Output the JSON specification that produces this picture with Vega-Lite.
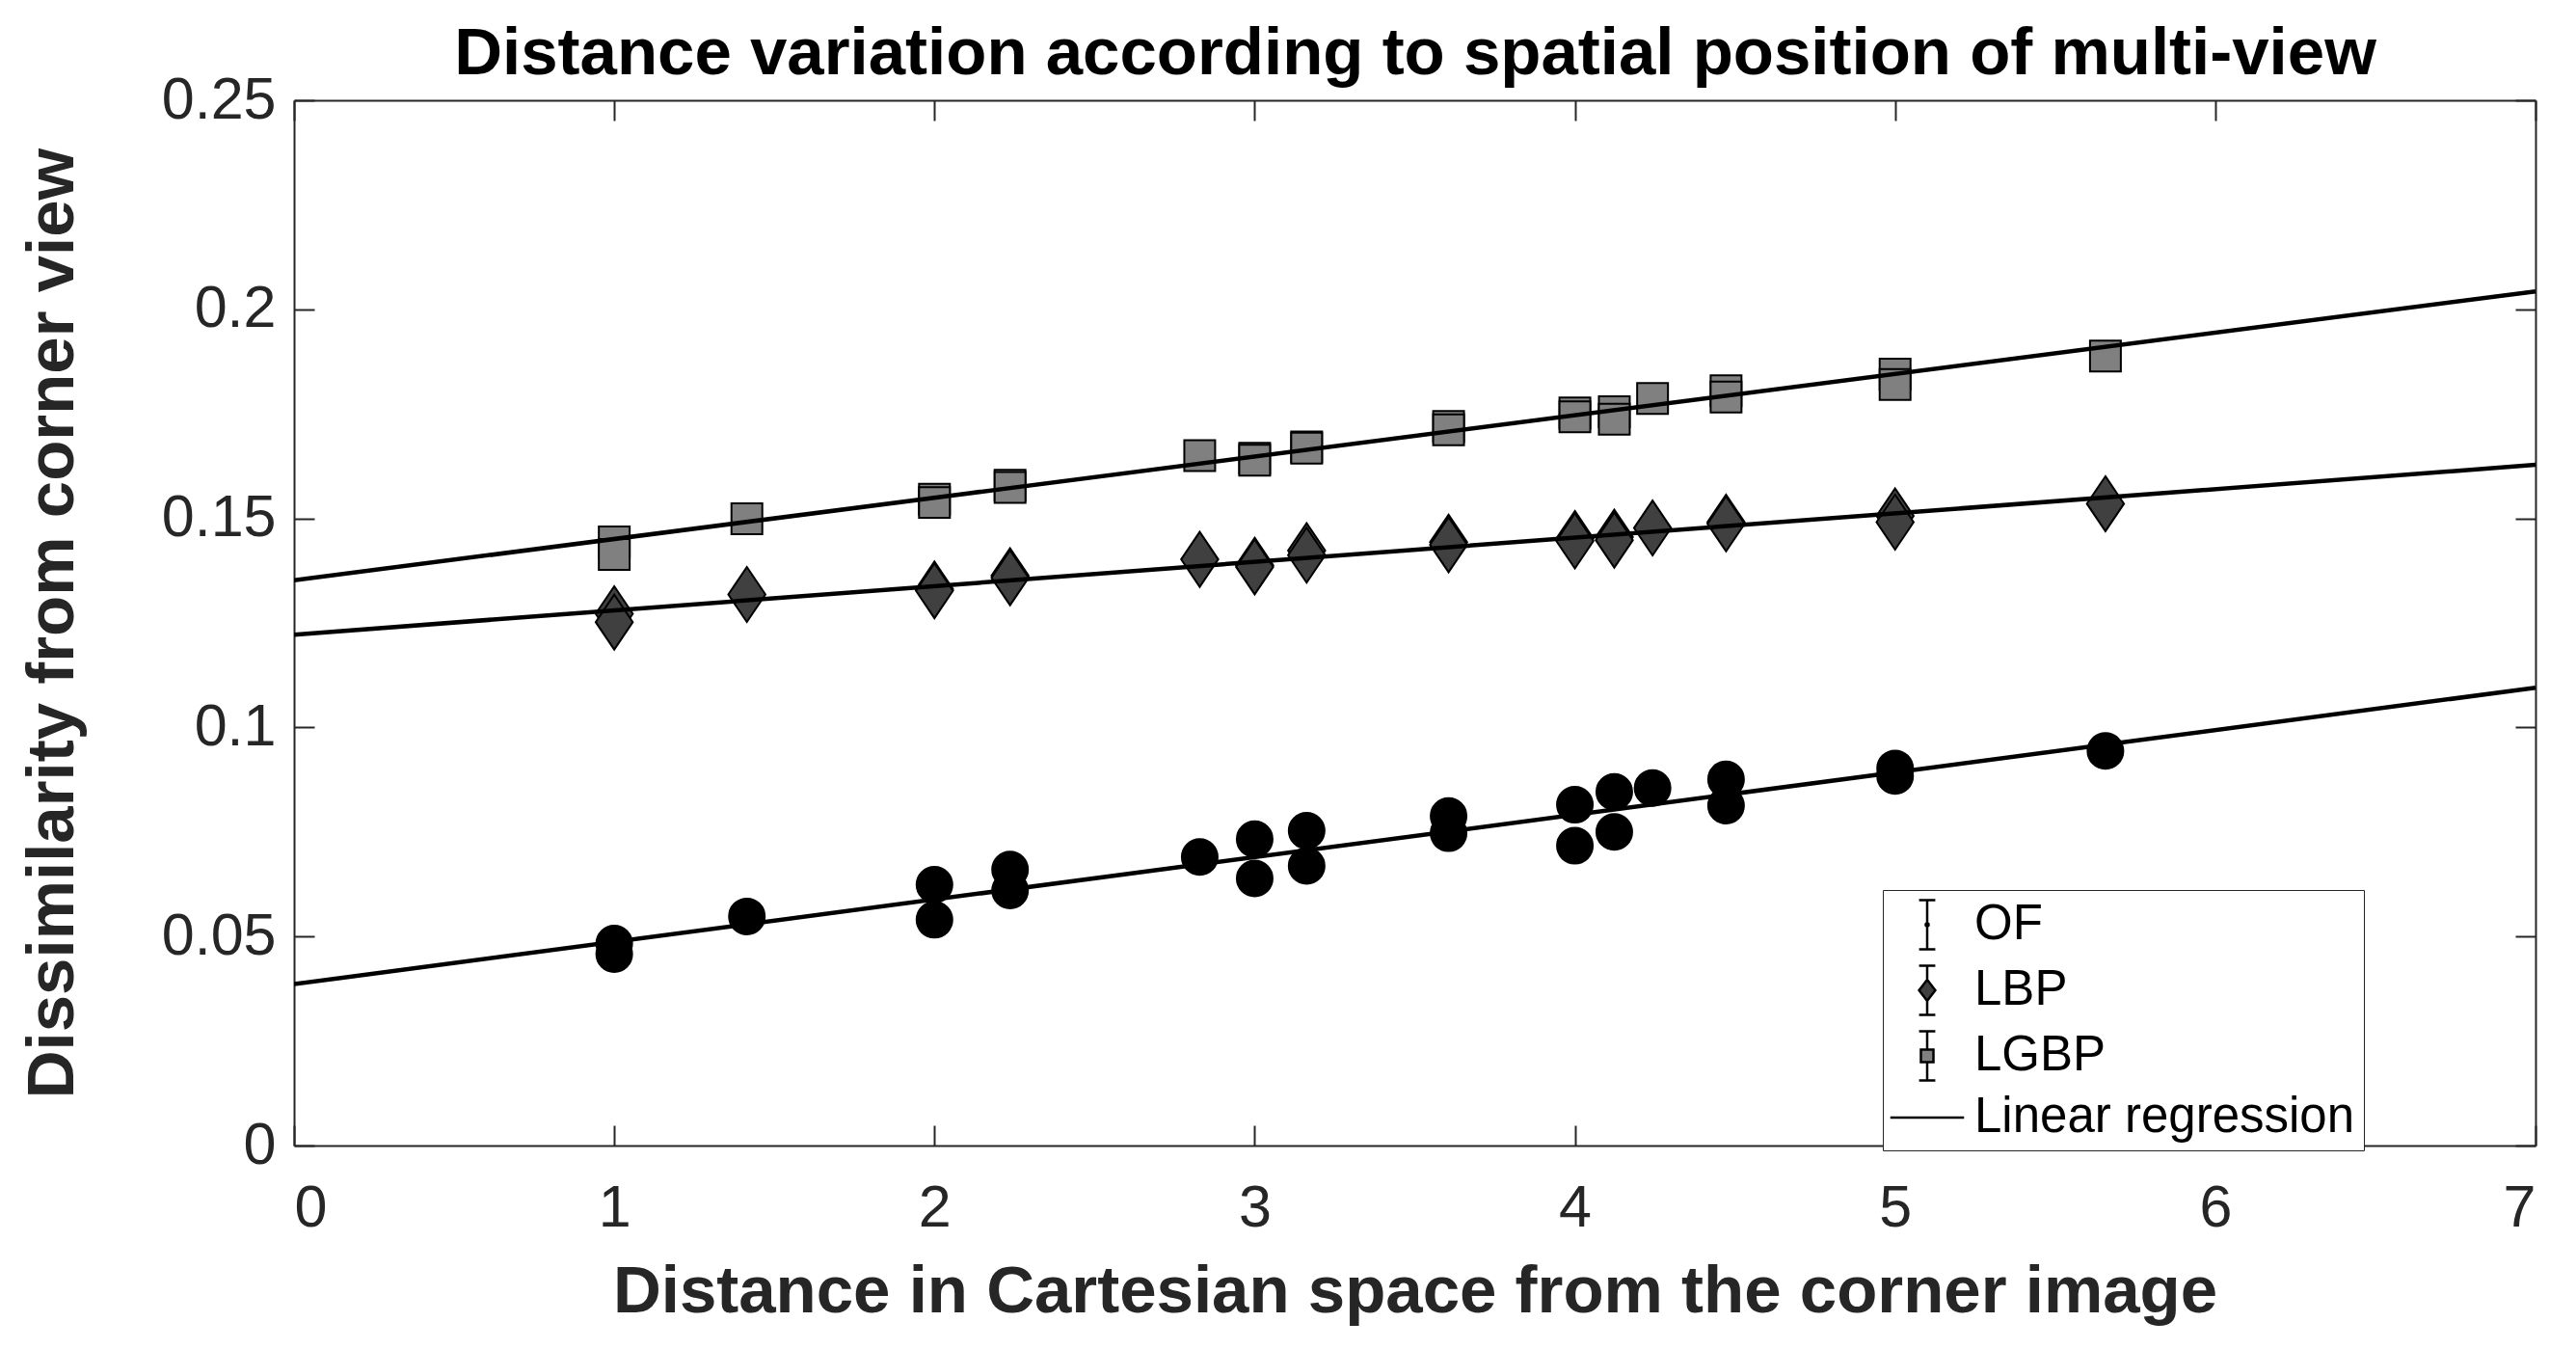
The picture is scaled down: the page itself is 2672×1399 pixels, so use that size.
{
  "$schema": "https://vega.github.io/schema/vega-lite/v6.json",
  "autosize": "none",
  "width": 2325,
  "height": 1084,
  "padding": {"left": 305, "top": 104, "right": 42, "bottom": 211},
  "background": "white",
  "config": {
    "font": "Liberation Sans",
    "view": {"stroke": null},
    "axis": {
      "grid": false,
      "domainColor": "#262626",
      "domainWidth": 2,
      "tickColor": "#262626",
      "tickWidth": 2,
      "tickSize": -21,
      "labelFont": "Liberation Sans",
      "labelFontSize": 61,
      "labelColor": "#262626",
      "titleFont": "Liberation Sans",
      "titleFontWeight": "bold",
      "titleColor": "#262626"
    }
  },
  "datasets": {
    "points": [
      {"series": "OF", "distance": 1, "dissimilarity": 0.0483},
      {"series": "OF", "distance": 1, "dissimilarity": 0.0458},
      {"series": "OF", "distance": 1.4142, "dissimilarity": 0.0548},
      {"series": "OF", "distance": 2, "dissimilarity": 0.0624},
      {"series": "OF", "distance": 2, "dissimilarity": 0.054},
      {"series": "OF", "distance": 2.2361, "dissimilarity": 0.066},
      {"series": "OF", "distance": 2.2361, "dissimilarity": 0.061},
      {"series": "OF", "distance": 2.8284, "dissimilarity": 0.069},
      {"series": "OF", "distance": 3, "dissimilarity": 0.0733},
      {"series": "OF", "distance": 3, "dissimilarity": 0.0639},
      {"series": "OF", "distance": 3.1623, "dissimilarity": 0.0753},
      {"series": "OF", "distance": 3.1623, "dissimilarity": 0.0669},
      {"series": "OF", "distance": 3.6056, "dissimilarity": 0.0788},
      {"series": "OF", "distance": 3.6056, "dissimilarity": 0.0747},
      {"series": "OF", "distance": 4, "dissimilarity": 0.0815},
      {"series": "OF", "distance": 4, "dissimilarity": 0.0717},
      {"series": "OF", "distance": 4.1231, "dissimilarity": 0.0846},
      {"series": "OF", "distance": 4.1231, "dissimilarity": 0.075},
      {"series": "OF", "distance": 4.2426, "dissimilarity": 0.0855},
      {"series": "OF", "distance": 4.4721, "dissimilarity": 0.0876},
      {"series": "OF", "distance": 4.4721, "dissimilarity": 0.0813},
      {"series": "OF", "distance": 5, "dissimilarity": 0.0902},
      {"series": "OF", "distance": 5, "dissimilarity": 0.0884},
      {"series": "OF", "distance": 5.6569, "dissimilarity": 0.0944},
      {"series": "LBP", "distance": 1, "dissimilarity": 0.1272},
      {"series": "LBP", "distance": 1, "dissimilarity": 0.1252},
      {"series": "LBP", "distance": 1.4142, "dissimilarity": 0.1318},
      {"series": "LBP", "distance": 2, "dissimilarity": 0.1331},
      {"series": "LBP", "distance": 2, "dissimilarity": 0.1327},
      {"series": "LBP", "distance": 2.2361, "dissimilarity": 0.1363},
      {"series": "LBP", "distance": 2.2361, "dissimilarity": 0.1358},
      {"series": "LBP", "distance": 2.8284, "dissimilarity": 0.1402},
      {"series": "LBP", "distance": 3, "dissimilarity": 0.1388},
      {"series": "LBP", "distance": 3, "dissimilarity": 0.1384},
      {"series": "LBP", "distance": 3.1623, "dissimilarity": 0.1423},
      {"series": "LBP", "distance": 3.1623, "dissimilarity": 0.1412},
      {"series": "LBP", "distance": 3.6056, "dissimilarity": 0.1443},
      {"series": "LBP", "distance": 3.6056, "dissimilarity": 0.1437},
      {"series": "LBP", "distance": 4, "dissimilarity": 0.1452},
      {"series": "LBP", "distance": 4, "dissimilarity": 0.1446},
      {"series": "LBP", "distance": 4.1231, "dissimilarity": 0.1455},
      {"series": "LBP", "distance": 4.1231, "dissimilarity": 0.1448},
      {"series": "LBP", "distance": 4.2426, "dissimilarity": 0.1477},
      {"series": "LBP", "distance": 4.4721, "dissimilarity": 0.1491},
      {"series": "LBP", "distance": 4.4721, "dissimilarity": 0.1487},
      {"series": "LBP", "distance": 5, "dissimilarity": 0.1506},
      {"series": "LBP", "distance": 5, "dissimilarity": 0.1491},
      {"series": "LBP", "distance": 5.6569, "dissimilarity": 0.1535},
      {"series": "LGBP", "distance": 1, "dissimilarity": 0.1444},
      {"series": "LGBP", "distance": 1, "dissimilarity": 0.1414},
      {"series": "LGBP", "distance": 1.4142, "dissimilarity": 0.1499},
      {"series": "LGBP", "distance": 2, "dissimilarity": 0.1546},
      {"series": "LGBP", "distance": 2, "dissimilarity": 0.1538},
      {"series": "LGBP", "distance": 2.2361, "dissimilarity": 0.1579},
      {"series": "LGBP", "distance": 2.2361, "dissimilarity": 0.1574},
      {"series": "LGBP", "distance": 2.8284, "dissimilarity": 0.165},
      {"series": "LGBP", "distance": 3, "dissimilarity": 0.1644},
      {"series": "LGBP", "distance": 3, "dissimilarity": 0.1639},
      {"series": "LGBP", "distance": 3.1623, "dissimilarity": 0.1671},
      {"series": "LGBP", "distance": 3.1623, "dissimilarity": 0.1668},
      {"series": "LGBP", "distance": 3.6056, "dissimilarity": 0.172},
      {"series": "LGBP", "distance": 3.6056, "dissimilarity": 0.1712},
      {"series": "LGBP", "distance": 4, "dissimilarity": 0.1752},
      {"series": "LGBP", "distance": 4, "dissimilarity": 0.1743},
      {"series": "LGBP", "distance": 4.1231, "dissimilarity": 0.1755},
      {"series": "LGBP", "distance": 4.1231, "dissimilarity": 0.1737},
      {"series": "LGBP", "distance": 4.2426, "dissimilarity": 0.1787},
      {"series": "LGBP", "distance": 4.4721, "dissimilarity": 0.1805},
      {"series": "LGBP", "distance": 4.4721, "dissimilarity": 0.179},
      {"series": "LGBP", "distance": 5, "dissimilarity": 0.1845},
      {"series": "LGBP", "distance": 5, "dissimilarity": 0.182},
      {"series": "LGBP", "distance": 5.6569, "dissimilarity": 0.1888}
    ],
    "fits": [
      {"series": "OF", "distance": 0, "dissimilarity": 0.0386},
      {"series": "OF", "distance": 7, "dissimilarity": 0.1095},
      {"series": "LBP", "distance": 0, "dissimilarity": 0.1222},
      {"series": "LBP", "distance": 7, "dissimilarity": 0.1628},
      {"series": "LGBP", "distance": 0, "dissimilarity": 0.1352},
      {"series": "LGBP", "distance": 7, "dissimilarity": 0.2043}
    ]
  },
  "resolve": {
    "axis": {"x": "independent", "y": "independent"},
    "scale": {"shape": "independent", "color": "independent"}
  },
  "layer": [
    {
      "data": {"name": "points"},
      "mark": {"type": "point", "filled": true, "stroke": "black", "strokeWidth": 2, "opacity": 1, "size": 3249},
      "encoding": {
        "x": {
          "field": "distance",
          "type": "quantitative",
          "scale": {"domain": [0, 7], "nice": false, "zero": false},
          "axis": {
            "orient": "bottom",
            "values": [0, 1, 2, 3, 4, 5, 6, 7],
            "labelPadding": 56,
            "title": "Distance in Cartesian space from the corner image",
            "titleFontSize": 69,
            "titlePadding": 22
          }
        },
        "y": {
          "field": "dissimilarity",
          "type": "quantitative",
          "scale": {"domain": [0, 0.25], "nice": false, "zero": false},
          "axis": {
            "orient": "left",
            "values": [0, 0.05, 0.1, 0.15, 0.2, 0.25],
            "format": "~g",
            "labelPadding": 40,
            "title": "Dissimilarity from corner view",
            "titleFontSize": 69,
            "titlePadding": 78
          }
        },
        "color": {
          "field": "series",
          "type": "nominal",
          "scale": {"domain": ["OF", "LBP", "LGBP"], "range": ["black", "#404040", "#808080"]},
          "legend": null
        },
        "shape": {
          "field": "series",
          "type": "nominal",
          "scale": {
            "domain": ["OF", "LBP", "LGBP"],
            "range": [
              "M-0.649,0A0.649,0.649,0,1,0,0.649,0A0.649,0.649,0,1,0,-0.649,0Z",
              "M0,-1L0.675,0L0,1L-0.675,0Z",
              "M-0.561,-0.561H0.561V0.561H-0.561Z"
            ]
          },
          "legend": null
        }
      }
    },
    {
      "data": {"name": "fits"},
      "mark": {"type": "line", "stroke": "black", "strokeWidth": 4.5, "clip": true},
      "encoding": {
        "x": {
          "field": "distance",
          "type": "quantitative",
          "axis": {
            "orient": "top",
            "values": [0, 1, 2, 3, 4, 5, 6, 7],
            "labels": false,
            "title": "Distance variation according to spatial position of multi-view",
            "titleFontSize": 69,
            "titleColor": "black",
            "titleBaseline": "alphabetic",
            "titlePadding": 27
          }
        },
        "y": {
          "field": "dissimilarity",
          "type": "quantitative",
          "axis": {"orient": "right", "values": [0, 0.05, 0.1, 0.15, 0.2, 0.25], "labels": false, "title": null}
        },
        "detail": {"field": "series", "type": "nominal"}
      }
    },
    {
      "data": {"values": []},
      "mark": {"type": "point", "filled": true, "opacity": 1, "stroke": "black", "strokeWidth": 2.5, "size": 2601},
      "encoding": {
        "color": {
          "field": "series",
          "type": "nominal",
          "scale": {
            "domain": ["OF", "LBP", "LGBP", "Linear regression"],
            "range": ["black", "#404040", "#808080", "black"]
          },
          "legend": {
            "title": null,
            "orient": "none",
            "legendX": 1648,
            "legendY": 819,
            "direction": "vertical",
            "fillColor": "white",
            "strokeColor": "#262626",
            "padding": 9,
            "cornerRadius": 0,
            "symbolSize": 2601,
            "symbolStrokeColor": "black",
            "symbolStrokeWidth": 2.5,
            "symbolOffset": 10,
            "labelOffset": 22,
            "rowPadding": 6,
            "labelFont": "Liberation Sans",
            "labelFontSize": 51,
            "labelColor": "black",
            "labelLimit": 1000
          }
        },
        "shape": {
          "field": "series",
          "type": "nominal",
          "scale": {
            "domain": ["OF", "LBP", "LGBP", "Linear regression"],
            "range": [
              "M-0.33,-1H0.33M0,-1V1M-0.33,1H0.33M-0.06,0A0.06,0.06,0,1,0,0.06,0A0.06,0.06,0,1,0,-0.06,0Z",
              "M-0.33,-1H0.33M0,-1V-0.43M0,0.43V1M-0.33,1H0.33M0,-0.43L0.33,0L0,0.43L-0.33,0Z",
              "M-0.33,-1H0.33M0,-1V-0.255M0,0.255V1M-0.33,1H0.33M-0.255,-0.255H0.255V0.255H-0.255Z",
              "M-1.5,0H1.5"
            ]
          },
          "legend": {
            "title": null,
            "orient": "none",
            "legendX": 1648,
            "legendY": 819,
            "direction": "vertical",
            "fillColor": "white",
            "strokeColor": "#262626",
            "padding": 9,
            "cornerRadius": 0,
            "symbolSize": 2601,
            "symbolStrokeColor": "black",
            "symbolStrokeWidth": 2.5,
            "symbolOffset": 10,
            "labelOffset": 22,
            "rowPadding": 6,
            "labelFont": "Liberation Sans",
            "labelFontSize": 51,
            "labelColor": "black",
            "labelLimit": 1000
          }
        }
      }
    }
  ]
}
